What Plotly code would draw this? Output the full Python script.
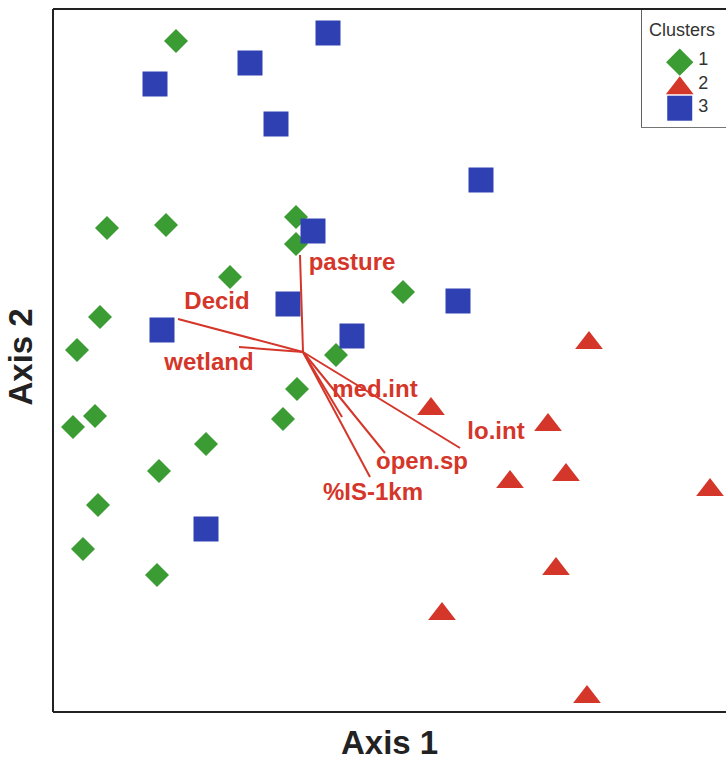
import plotly.graph_objects as go

# Site scores on the first two ordination axes, by cluster
c1_x = [-1.27, -1.96, -1.37, -0.07, -0.07, -0.73, 1.00, -2.03, -2.26, 0.33,
        -0.06, -2.08, -2.30, -0.20, -0.97, -1.44, -2.05, -2.20, -1.46]
c1_y = [3.11, 1.24, 1.27, 1.35, 1.08, 0.75, 0.60, 0.35, 0.02, -0.03,
        -0.37, -0.64, -0.75, -0.67, -0.92, -1.19, -1.53, -1.97, -2.23]

c2_x = [2.86, 1.28, 2.45, 2.63, 2.07, 4.07, 2.53, 1.39, 2.84]
c2_y = [0.09, -0.57, -0.73, -1.23, -1.30, -1.38, -2.17, -2.62, -3.45]

c3_x = [0.25, -0.53, -1.48, -0.27, 1.78, 0.10, -0.15, 1.55, -1.41, 0.49, -0.97]
c3_y = [3.19, 2.89, 2.68, 2.28, 1.72, 1.21, 0.48, 0.51, 0.22, 0.16, -1.77]

# Environmental vectors (biplot arrows from the origin)
var_names = ["pasture", "Decid", "wetland", "med.int", "lo.int", "open.sp", "%IS-1km"]
var_x = [-0.03, -1.25, -0.64, 0.39, 1.57, 0.82, 0.67]
var_y = [0.97, 0.33, 0.05, -0.65, -0.96, -1.01, -1.25]
lab_x = [0.49, -0.86, -0.94, 0.72, 1.93, 1.19, 0.70]
lab_y = [0.88, 0.49, -0.12, -0.39, -0.81, -1.11, -1.42]

cluster_labels = ["1", "2", "3"]

GREEN = "#3b9c33"
RED = "#d5362a"
BLUE = "#2e40b2"

fig = go.Figure()

fig.add_trace(go.Scatter(x=c1_x, y=c1_y, mode="markers", showlegend=False,
                         marker=dict(symbol="diamond", size=18.5, color=GREEN)))
fig.add_trace(go.Scatter(x=c2_x, y=c2_y, mode="markers", showlegend=False,
                         marker=dict(symbol="triangle-up", size=24, color=RED)))
fig.add_trace(go.Scatter(x=c3_x, y=c3_y, mode="markers", showlegend=False,
                         marker=dict(symbol="square", size=25, color=BLUE)))

# vector segments
seg_x, seg_y = [], []
for vx, vy in zip(var_x, var_y):
    seg_x += [0, vx, None]
    seg_y += [0, vy, None]
fig.add_trace(go.Scatter(x=seg_x, y=seg_y, mode="lines", showlegend=False,
                         line=dict(color=RED, width=2)))

fig.add_trace(go.Scatter(x=lab_x, y=lab_y, mode="text", text=var_names,
                         showlegend=False, cliponaxis=False,
                         textfont=dict(family="Liberation Sans", size=24,
                                       color=RED, weight="bold")))

# cluster key drawn on its own small axes
key_x = [0.45, 0.45, 0.45]
key_y = [0.55, 0.33, 0.16]
key_sym = ["diamond", "triangle-up", "square"]
key_size = [21, 24, 25]
key_col = [GREEN, RED, BLUE]
for kx, ky, ks, kz, kc in zip(key_x, key_y, key_sym, key_size, key_col):
    fig.add_trace(go.Scatter(x=[kx], y=[ky], mode="markers", showlegend=False,
                             xaxis="x2", yaxis="y2", cliponaxis=False,
                             marker=dict(symbol=ks, size=kz, color=kc)))
fig.add_trace(go.Scatter(x=[0.67] * 3, y=[0.56, 0.36, 0.17], mode="text",
                         text=cluster_labels, textposition="middle right",
                         showlegend=False, xaxis="x2", yaxis="y2", cliponaxis=False,
                         textfont=dict(family="Liberation Sans", size=18, color="#333333")))

fig.update_layout(
    width=726, height=763,
    margin=dict(l=53, r=0, t=9, b=51),
    paper_bgcolor="white", plot_bgcolor="white",
    xaxis=dict(range=[-2.50, 4.23], showgrid=False, zeroline=False,
               showticklabels=False, ticks="", showline=False),
    yaxis=dict(range=[-3.60, 3.43], showgrid=False, zeroline=False,
               showticklabels=False, ticks="", showline=False),
    xaxis2=dict(domain=[0.875, 1.0], range=[0, 1], visible=False, anchor="y2"),
    yaxis2=dict(domain=[0.832, 1.0], range=[0, 1], visible=False, anchor="x2"),
    shapes=[
        # plot frame (left, top, bottom)
        dict(type="line", xref="paper", yref="paper", x0=0, x1=0, y0=0, y1=1,
             line=dict(color="#222222", width=2)),
        dict(type="line", xref="paper", yref="paper", x0=0, x1=1.01, y0=1, y1=1,
             line=dict(color="#222222", width=2)),
        dict(type="line", xref="paper", yref="paper", x0=0, x1=1.01, y0=0, y1=0,
             line=dict(color="#222222", width=2)),
        # key box
        dict(type="rect", xref="paper", yref="paper", x0=0.875, x1=1.01,
             y0=0.832, y1=1.0, fillcolor="white", layer="below",
             line=dict(color="#333333", width=1.5)),
    ],
    annotations=[
        dict(text="Axis 1", xref="paper", yref="paper", x=0.5, y=0,
             yshift=-30, showarrow=False, xanchor="center", yanchor="middle",
             font=dict(family="Liberation Sans", size=33, color="#222222", weight="bold")),
        dict(text="Axis 2", xref="paper", yref="paper", x=0, y=0.5,
             xshift=-33, yshift=3, showarrow=False, textangle=-90,
             xanchor="center", yanchor="middle",
             font=dict(family="Liberation Sans", size=33, color="#222222", weight="bold")),
        dict(text="Clusters", xref="paper", yref="paper", x=0.883, y=0.97,
             showarrow=False, xanchor="left", yanchor="middle",
             font=dict(family="Liberation Sans", size=18, color="#333333")),
    ],
)

fig.write_html("out.html")
